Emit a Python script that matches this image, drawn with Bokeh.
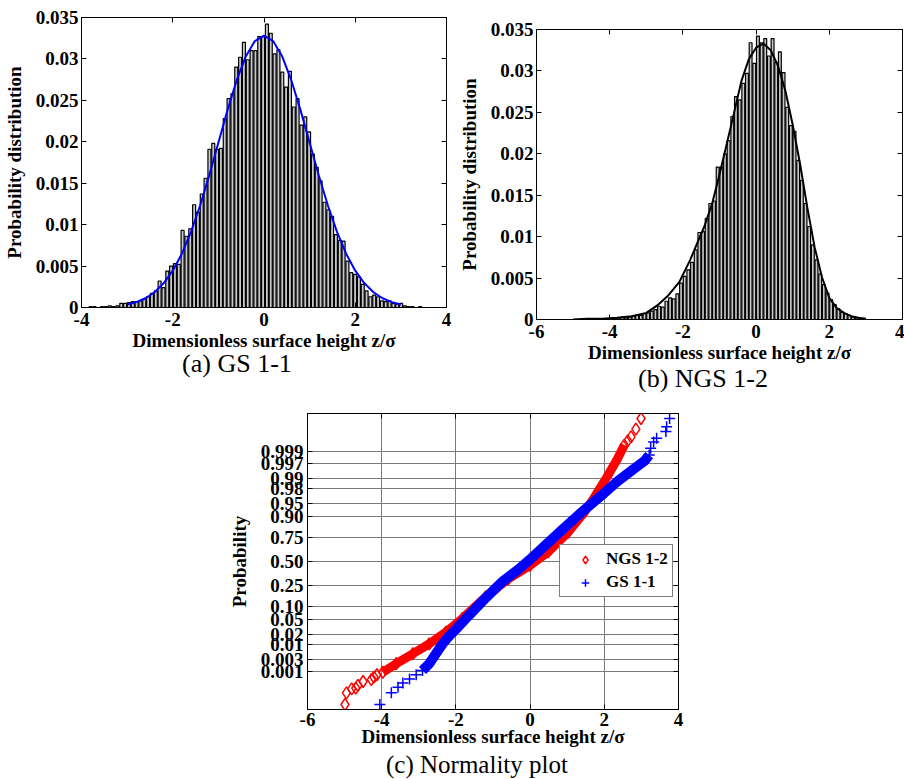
from statistics import NormalDist

from bokeh.plotting import figure
from bokeh.models import (Range1d, FixedTicker, LinearAxis, NumeralTickFormatter,
                          CustomJSTickFormatter, Legend, LegendItem, Div, Spacer)
from bokeh.layouts import row, column
from bokeh.embed import file_html
from bokeh.resources import INLINE

SERIF = "Liberation Serif"

# ---------------- (a) GS 1-1 : histogram + fitted curve ----------------
gs_bin_first = -3.80
gs_bin_width = 0.084
gs_hist = [0.0001, 0.0001, 0.0000, 0.0001, 0.0001, 0.0002, 0.0001, 0.0002, 0.0005, 0.0005,
           0.0006, 0.0007, 0.0007, 0.0008, 0.0010, 0.0013, 0.0017, 0.0020, 0.0032, 0.0024,
           0.0044, 0.0050, 0.0053, 0.0052, 0.0093, 0.0086, 0.0095, 0.0124, 0.0115, 0.0137,
           0.0156, 0.0191, 0.0198, 0.0191, 0.0192, 0.0228, 0.0252, 0.0258, 0.0290, 0.0302,
           0.0320, 0.0299, 0.0310, 0.0310, 0.0327, 0.0327, 0.0342, 0.0331, 0.0306, 0.0311,
           0.0284, 0.0266, 0.0285, 0.0242, 0.0252, 0.0220, 0.0230, 0.0212, 0.0185, 0.0169,
           0.0153, 0.0127, 0.0118, 0.0110, 0.0088, 0.0081, 0.0080, 0.0056, 0.0042, 0.0040,
           0.0037, 0.0028, 0.0020, 0.0013, 0.0015, 0.0013, 0.0008, 0.0007, 0.0008, 0.0005,
           0.0004, 0.0005, 0.0002, 0.0001, 0.0001, 0.0000, 0.0001, 0.0000]
gs_fit_z = [-3.0, -2.8, -2.6, -2.4, -2.2, -2.0, -1.8, -1.6, -1.4, -1.2, -1.0, -0.8, -0.6, -0.4,
            -0.2, 0.0, 0.2, 0.4, 0.6, 0.8, 1.0, 1.2, 1.4, 1.6, 1.8, 2.0, 2.2, 2.4, 2.6, 2.8, 3.0]
gs_fit_p = [0.00036, 0.00065, 0.00112, 0.00184, 0.00292, 0.00444, 0.00649, 0.00912, 0.01231,
            0.01597, 0.01989, 0.02382, 0.02740, 0.03028, 0.03215, 0.03280, 0.03215, 0.03028,
            0.02740, 0.02382, 0.01989, 0.01597, 0.01231, 0.00912, 0.00649, 0.00444, 0.00292,
            0.00184, 0.00112, 0.00065, 0.00036]

# ---------------- (b) NGS 1-2 : histogram + fitted curve ----------------
ngs_bin_first = -4.95
ngs_bin_width = 0.10
ngs_hist = [0.0000, 0.0000, 0.0001, 0.0000, 0.0000, 0.0001, 0.0000, 0.0001, 0.0001, 0.0001,
            0.0002, 0.0001, 0.0002, 0.0003, 0.0002, 0.0003, 0.0004, 0.0005, 0.0005, 0.0007,
            0.0008, 0.0010, 0.0012, 0.0016, 0.0015, 0.0022, 0.0026, 0.0025, 0.0031, 0.0044,
            0.0052, 0.0060, 0.0069, 0.0084, 0.0105, 0.0106, 0.0122, 0.0140, 0.0143, 0.0184,
            0.0184, 0.0200, 0.0216, 0.0245, 0.0269, 0.0265, 0.0285, 0.0297, 0.0334, 0.0309,
            0.0342, 0.0334, 0.0339, 0.0318, 0.0339, 0.0310, 0.0323, 0.0298, 0.0256, 0.0234,
            0.0227, 0.0192, 0.0168, 0.0140, 0.0112, 0.0090, 0.0072, 0.0055, 0.0042, 0.0032,
            0.0024, 0.0018, 0.0013, 0.0009, 0.0007, 0.0005, 0.0003, 0.0002, 0.0001, 0.0001,
            0.0000]
ngs_fit_z = [-5.0, -4.6, -4.2, -3.8, -3.4, -3.0, -2.7, -2.4, -2.1, -1.8, -1.6, -1.4, -1.2, -1.0,
             -0.8, -0.6, -0.4, -0.2, 0.0, 0.2, 0.4, 0.6, 0.8, 1.0, 1.2, 1.4, 1.6, 1.8, 2.0, 2.2,
             2.4, 2.6, 2.8, 3.0]
ngs_fit_p = [0.0000, 0.0001, 0.0001, 0.0002, 0.0004, 0.0008, 0.0017, 0.0029, 0.0045, 0.0072,
             0.0093, 0.0114, 0.0140, 0.0175, 0.0212, 0.0250, 0.0288, 0.0314, 0.0328, 0.0333,
             0.0325, 0.0306, 0.0276, 0.0235, 0.0188, 0.0135, 0.0087, 0.0051, 0.0026, 0.0014,
             0.0008, 0.0004, 0.0002, 0.0001]

hist_y_ticks = [0, 0.005, 0.01, 0.015, 0.02, 0.025, 0.03, 0.035]
a_x_ticks = [-4, -2, 0, 2, 4]
b_x_ticks = [-6, -4, -2, 0, 2, 4]

# ---------------- (c) normality plot (x = z/sigma, y = normal quantile) ----------------
prob_labels = ["0.001", "0.003", "0.01", "0.02", "0.05", "0.10", "0.25", "0.50",
               "0.75", "0.90", "0.95", "0.98", "0.99", "0.997", "0.999"]
c_x_ticks = [-6, -4, -2, 0, 2, 4]

ngs_band_z = [-3.97, -3.61, -3.16, -2.72, -2.27, -1.83, -1.20, -0.58, 0.00, 0.49, 1.03, 1.47,
              1.74, 2.10, 2.36, 2.54]
ngs_band_q = [-3.12, -2.88, -2.60, -2.32, -1.99, -1.61, -1.00, -0.48, -0.11, 0.27, 0.83, 1.40,
              1.82, 2.43, 2.90, 3.28]
ngs_tail_z = [-4.99, -4.95, -4.81, -4.70, -4.64, -4.50, -4.28, -4.21, -4.13, 2.63, 2.72, 2.85, 2.99]
ngs_tail_q = [-4.03, -3.70, -3.59, -3.57, -3.49, -3.38, -3.33, -3.26, -3.19, 3.40, 3.51, 3.73, 4.03]

gs_band_z = [-2.90, -2.72, -2.54, -2.36, -2.18, -2.00, -1.65, -1.20, -0.76, -0.31, 0.00, 0.31,
             0.85, 1.38, 1.74, 1.99, 2.36, 2.81, 3.08, 3.21]
gs_band_q = [-3.07, -2.88, -2.60, -2.32, -2.10, -1.91, -1.52, -1.03, -0.58, -0.22, 0.06, 0.36,
             0.88, 1.38, 1.70, 1.92, 2.26, 2.62, 2.83, 3.00]
gs_tail_z = [-4.05, -3.74, -3.56, -3.43, -3.25, -3.07, 3.25, 3.33, 3.41, 3.66, 3.68, 3.76]
gs_tail_q = [-4.03, -3.70, -3.54, -3.42, -3.31, -3.19, 3.19, 3.37, 3.47, 3.66, 3.80, 4.03]


# ---------------- helpers ----------------
def make_fig(width, height, xr, yr, left, right, top, bottom):
    return figure(width=width, height=height, x_range=Range1d(*xr), y_range=Range1d(*yr),
                  output_backend="svg", toolbar_location=None,
                  min_border_left=left, min_border_right=right,
                  min_border_top=top, min_border_bottom=bottom,
                  background_fill_color="white", border_fill_color="white",
                  outline_line_color="black", outline_line_width=1)


def style_axis(ax, ticks, fmt, standoff):
    ax.ticker = FixedTicker(ticks=ticks)
    ax.formatter = fmt
    ax.major_tick_in = 5
    ax.major_tick_out = 0
    ax.minor_tick_line_color = None
    ax.axis_line_color = "black"
    ax.major_tick_line_color = "black"
    ax.major_label_text_font = SERIF
    ax.major_label_text_font_style = "bold"
    ax.major_label_text_font_size = "19px"
    ax.major_label_text_color = "black"
    ax.major_label_standoff = standoff
    ax.axis_label_text_font = SERIF
    ax.axis_label_text_font_style = "bold"
    ax.axis_label_text_font_size = "19px"
    ax.axis_label_text_color = "black"


def add_mirror(p, xticks, yticks):
    for side, ticks in (("above", xticks), ("right", yticks)):
        ax = LinearAxis(ticker=FixedTicker(ticks=ticks),
                        formatter=CustomJSTickFormatter(code="return ''"),
                        major_tick_in=5, major_tick_out=0, minor_tick_line_color=None,
                        major_label_text_color=None, major_label_standoff=0,
                        axis_line_color="black", major_tick_line_color="black")
        p.add_layout(ax, side)


def caption(text, width, height, line_height, size=26):
    return Div(text=text, width=width, height=height, margin=0,
               styles={"text-align": "center", "font-family": "'Liberation Serif', serif",
                       "font-size": f"{size}px", "line-height": f"{line_height}px",
                       "color": "black", "white-space": "nowrap"})


def hist_panel(width, height, left, right, top, bottom, xr, xticks, first, bw, heights,
               fz, fp, fit_color):
    p = make_fig(width, height, xr, (0, 0.035), left, right, top, bottom)
    centers = [first + bw * i for i in range(len(heights))]
    p.vbar(x=centers, top=heights, bottom=0, width=0.78 * bw, fill_color="#c8c8c8",
           line_color="black", line_width=1.2)
    p.line(fz, fp, line_color=fit_color, line_width=2)
    style_axis(p.xaxis[0], xticks, NumeralTickFormatter(format="0"), 5)
    style_axis(p.yaxis[0], hist_y_ticks, NumeralTickFormatter(format="0.[000]"), 3)
    p.xaxis[0].axis_label = "Dimensionless surface height z/σ"
    p.xaxis[0].axis_label_standoff = 1
    p.yaxis[0].axis_label = "Probability distribution"
    p.yaxis[0].axis_label_standoff = 8
    p.xgrid.visible = False
    p.ygrid.visible = False
    add_mirror(p, xticks, hist_y_ticks)
    return p


# ---------------- (a) ----------------
pa = hist_panel(455, 355, 79, 9, 17, 48, (-4, 4), a_x_ticks, gs_bin_first, gs_bin_width,
                gs_hist, gs_fit_z, gs_fit_p, "#0000ff")
cap_a = caption("(a) GS 1-1", 240, 37, 18)

# ---------------- (b) ----------------
pb = hist_panel(449, 367, 80, 2, 29, 48, (-6, 4), b_x_ticks, ngs_bin_first, ngs_bin_width,
                ngs_hist, ngs_fit_z, ngs_fit_p, "black")
cap_b = caption("(b) NGS 1-2", 240, 25, 23)

# ---------------- (c) ----------------
q_lo, q_hi = -4.17, 4.17
pc = make_fig(469, 359, (-6, 4), (q_lo, q_hi), 79, 16, 21, 42)
prob_pos = [NormalDist().inv_cdf(float(s)) for s in prob_labels]

pc.xgrid.ticker = FixedTicker(ticks=c_x_ticks)
pc.ygrid.ticker = FixedTicker(ticks=prob_pos)
for g in (pc.xgrid[0], pc.ygrid[0]):
    g.grid_line_color = "#7a7a7a"
    g.grid_line_width = 1
    g.grid_line_alpha = 1

prob_fmt = CustomJSTickFormatter(args=dict(vals=prob_pos, labels=prob_labels), code="""
    let best = 0;
    for (let i = 0; i < vals.length; i++) {
        if (Math.abs(vals[i] - tick) < Math.abs(vals[best] - tick)) { best = i; }
    }
    return labels[best];
""")
style_axis(pc.xaxis[0], c_x_ticks, NumeralTickFormatter(format="0"), 3)
style_axis(pc.yaxis[0], prob_pos, prob_fmt, 4)
pc.xaxis[0].axis_label = "Dimensionless surface height z/σ"
pc.xaxis[0].axis_label_standoff = -3
pc.yaxis[0].axis_label = "Probability"
pc.yaxis[0].axis_label_standoff = 8
add_mirror(pc, c_x_ticks, prob_pos)

pc.line(ngs_band_z, ngs_band_q, line_color="#ff0000", line_width=9)
pc.scatter(ngs_band_z, ngs_band_q, marker="diamond", size=12, fill_color=None,
           line_color="#ff0000", line_width=1.5)
r_ngs = pc.scatter(ngs_tail_z, ngs_tail_q, marker="diamond", size=12, fill_color=None,
                   line_color="#ff0000", line_width=1.5)
pc.line(gs_band_z, gs_band_q, line_color="#0000ff", line_width=10)
pc.scatter(gs_band_z, gs_band_q, marker="cross", size=11, line_color="#0000ff", line_width=1.5)
r_gs = pc.scatter(gs_tail_z, gs_tail_q, marker="cross", size=11, line_color="#0000ff",
                  line_width=1.5)

legend = Legend(items=[LegendItem(label="NGS 1-2", renderers=[r_ngs]),
                       LegendItem(label="GS 1-1", renderers=[r_gs])],
                location=(252, 112), border_line_color="black", border_line_width=1,
                background_fill_color="white", background_fill_alpha=1,
                label_text_font=SERIF, label_text_font_style="bold",
                label_text_font_size="17px", label_text_color="black",
                padding=4, spacing=3, glyph_width=42, glyph_height=19, label_height=19,
                label_standoff=0, margin=0)
pc.add_layout(legend)

cap_c = caption("(c) Normality plot", 300, 28, 28, size=25)

layout = column(
    row(column(pa, row(Spacer(width=117, height=37), cap_a)),
        column(pb, row(Spacer(width=128, height=25), cap_b))),
    row(Spacer(width=225, height=359), pc),
    row(Spacer(width=327, height=28), cap_c),
)

open("out.html", "w").write(file_html(layout, INLINE))
